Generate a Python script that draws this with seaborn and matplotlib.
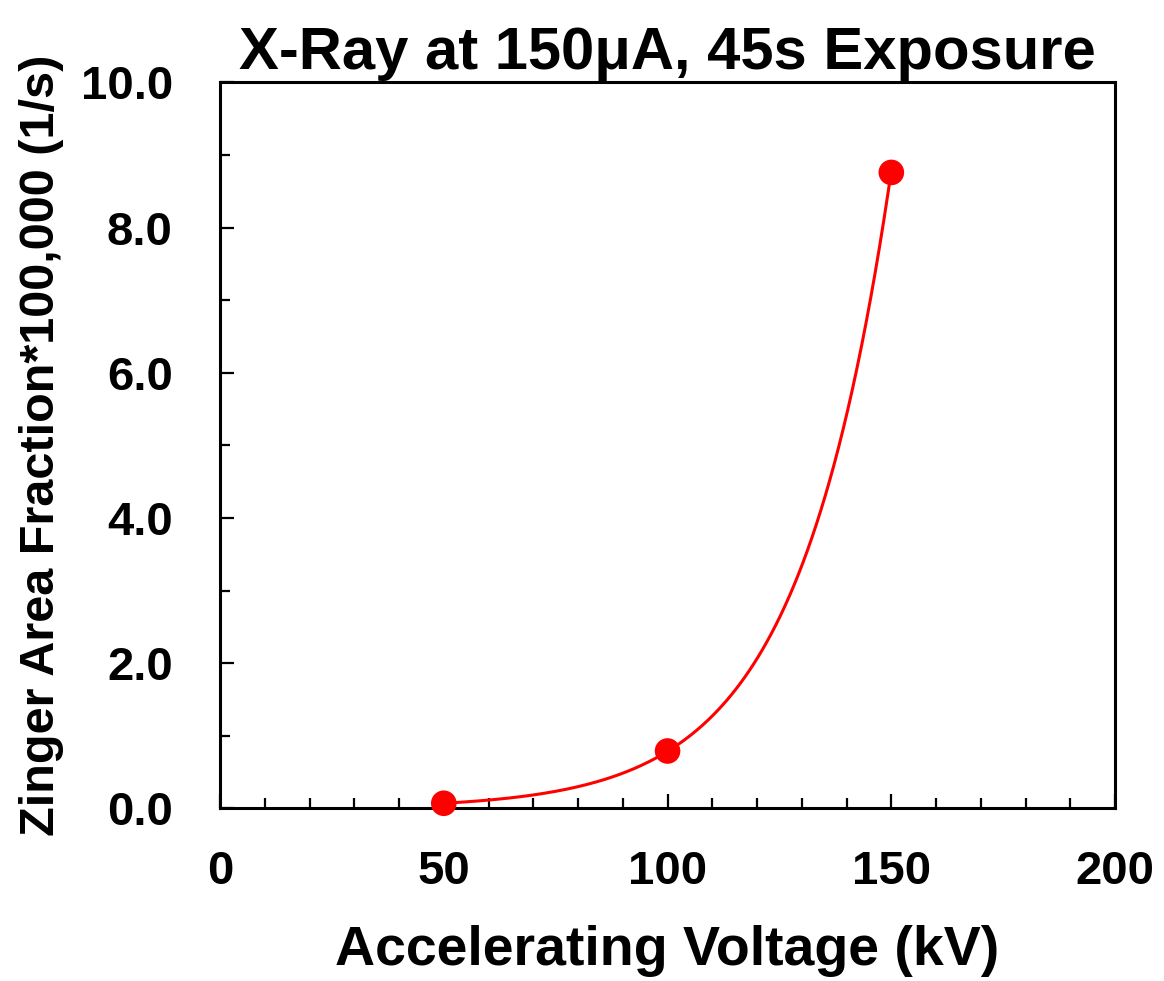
import numpy as np
import pandas as pd
import matplotlib
matplotlib.use("Agg")
import matplotlib.pyplot as plt
import seaborn as sns
from matplotlib.ticker import MultipleLocator, FormatStrFormatter

voltage_kv = [50, 100, 150]
zinger_frac = [0.07, 0.79, 8.76]
title = "X-Ray at 150\u03bcA, 45s Exposure"
xlabel = "Accelerating Voltage (kV)"
ylabel = "Zinger Area Fraction*100,000 (1/s)"

sns.set_theme(style="ticks")
plt.rcParams['font.family'] = ['Liberation Sans', 'DejaVu Sans']
plt.rcParams['font.weight'] = 'bold'
plt.rcParams['text.color'] = 'black'
plt.rcParams['axes.labelcolor'] = 'black'

df = pd.DataFrame({"kV": voltage_kv, "frac": zinger_frac})

# exponential trendline fitted to the data
b, ln_a = np.polyfit(df["kV"], np.log(df["frac"]), 1)
xf = np.linspace(min(voltage_kv), max(voltage_kv), 300)
fit = pd.DataFrame({"kV": xf, "frac": np.exp(ln_a + b * xf)})

fig = plt.figure(figsize=(11.64, 9.81), dpi=100)
ax = fig.add_axes([0.189, 0.176, 0.769, 0.740])

sns.lineplot(data=fit, x="kV", y="frac", ax=ax, color="#ff0000", linewidth=2.2)
sns.scatterplot(data=df, x="kV", y="frac", ax=ax, color="#ff0000", s=340,
                edgecolor="none", zorder=5, clip_on=False)

ax.set_xlim(0, 200)
ax.set_ylim(0, 10)
ax.xaxis.set_major_locator(MultipleLocator(50))
ax.xaxis.set_minor_locator(MultipleLocator(10))
ax.yaxis.set_major_locator(MultipleLocator(2))
ax.yaxis.set_minor_locator(MultipleLocator(1))
ax.yaxis.set_major_formatter(FormatStrFormatter("%.1f"))

for s in ax.spines.values():
    s.set_visible(True)
    s.set_linewidth(2.2)
    s.set_color("black")

ax.tick_params(which="major", direction="in", length=10, width=1.6,
               labelsize=34, colors="black")
ax.tick_params(which="minor", direction="in", length=7, width=1.6, colors="black")
ax.tick_params(axis="x", pad=30)
ax.tick_params(axis="y", pad=34)
for lab in ax.get_xticklabels() + ax.get_yticklabels():
    lab.set_fontweight("bold")

ax.set_xlabel(xlabel, fontsize=40, fontweight="bold", labelpad=22, color="black")
ax.set_ylabel(ylabel, fontsize=35, fontweight="bold", labelpad=12, color="black")
ax.set_title(title, fontsize=43, fontweight="bold", pad=10, color="black")

fig.savefig("out.png", dpi=100, facecolor="white")
